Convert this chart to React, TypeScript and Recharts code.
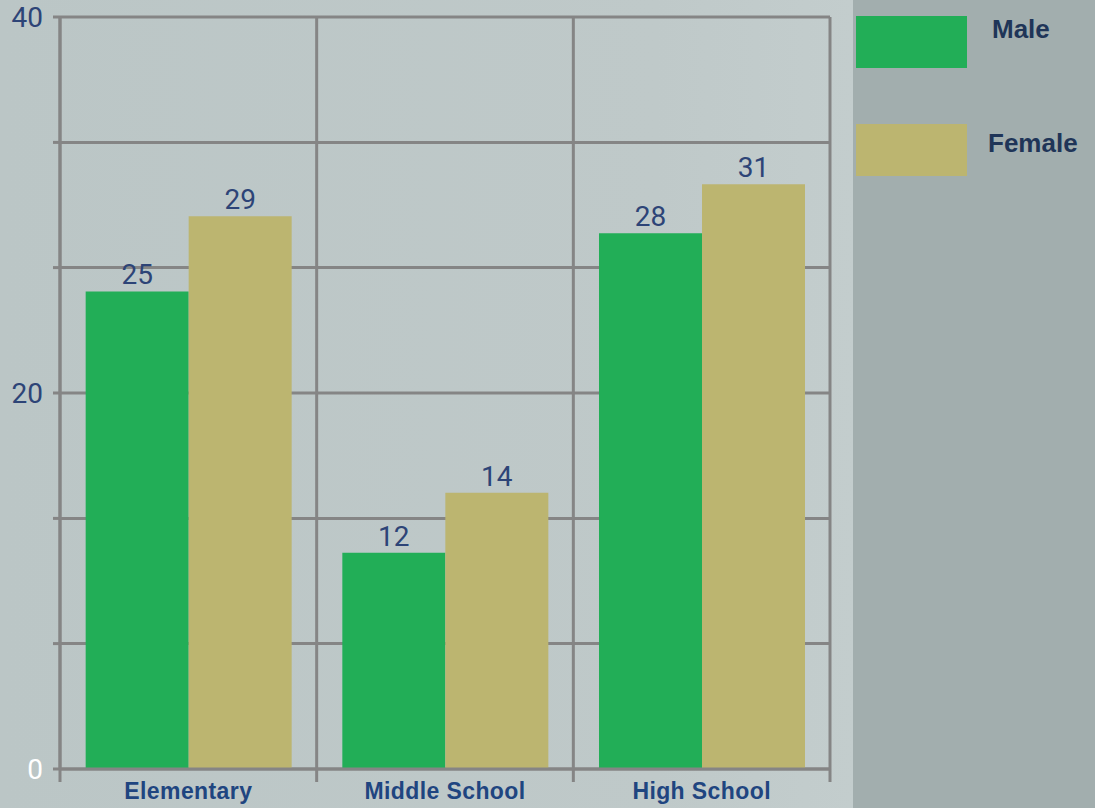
import { Bar, BarChart, CartesianGrid, LabelList, XAxis, YAxis } from 'recharts';

// Enrollment by school level, two series side by side.
const categories = ['Elementary', 'Middle School', 'High School'];
const seriesNames = ['Male', 'Female'];
const maleValues = [25.4, 11.5, 28.5];
const femaleValues = [29.4, 14.7, 31.1];
const maleLabels = ['25', '12', '28'];
const femaleLabels = ['29', '14', '31'];
const yTicks = [0, 6.67, 13.33, 20, 26.67, 33.33, 40];
const yLabelTicks = [0, 20, 40];

const MALE = '#22ae57';
const FEMALE = '#bcb570';
const SERIES_COLORS = [MALE, FEMALE];
const GRID = '#858585';
const LABEL = '#2d4477';

const CHART_W = 1095;
const CHART_H = 808;
const MARGIN = { top: 17, right: 265, left: 0, bottom: 0 };
const Y_AXIS_W = 60;
const PLOT_W = CHART_W - MARGIN.left - MARGIN.right - Y_AXIS_W;

const data = categories.map((category, i) => ({
  category,
  male: maleValues[i],
  female: femaleValues[i],
  maleLabel: maleLabels[i],
  femaleLabel: femaleLabels[i],
}));

function YTick({ x, y, payload }: any) {
  if (!yLabelTicks.includes(payload.value)) return null;
  return (
    <text
      x={x}
      y={y}
      dy="0.35em"
      textAnchor="end"
      fontFamily="Roboto"
      fontSize={28}
      fill={payload.value === 0 ? '#ffffff' : LABEL}
    >
      {payload.value}
    </text>
  );
}

function XTick({ x, y, payload, index }: any) {
  const band = PLOT_W / categories.length;
  const left = x - band / 2;
  const right = x + band / 2;
  return (
    <g>
      <line x1={left} x2={left} y1={y} y2={y + 13} stroke={GRID} strokeWidth={3} />
      {index === categories.length - 1 && (
        <line x1={right} x2={right} y1={y} y2={y + 13} stroke={GRID} strokeWidth={3} />
      )}
      <text
        x={x}
        y={y + 22}
        dy="0.35em"
        textAnchor="middle"
        fontFamily="'Liberation Sans', Arial, sans-serif"
        fontWeight="bold"
        fontSize={23}
        letterSpacing={0.4}
        fill="#1f4580"
      >
        {payload.value}
      </text>
    </g>
  );
}

export default function App() {
  return (
    <div
      style={{
        position: 'absolute',
        left: 0,
        top: 0,
        width: CHART_W,
        height: CHART_H,
        overflow: 'hidden',
        background: 'linear-gradient(90deg, #bbc6c6 0%, #bfc9c9 60%, #c3cdcd 78%)',
      }}
    >
      <div style={{ position: 'absolute', left: 853, top: 0, width: 242, height: CHART_H, background: '#a2aeae' }}>
        {seriesNames.map((name, i) => (
          <div key={name}>
            <div
              style={{ position: 'absolute', left: 3, top: 16 + i * 108, width: 111, height: 52, background: SERIES_COLORS[i] }}
            />
            <div
              style={{
                position: 'absolute',
                left: i === 0 ? 139 : 135,
                top: i === 0 ? 14 : 128,
                lineHeight: '30px',
                fontFamily: "'Liberation Sans', Arial, sans-serif",
                fontWeight: 'bold',
                fontSize: 26,
                color: '#1f3558',
                whiteSpace: 'nowrap',
              }}
            >
              {name}
            </div>
          </div>
        ))}
      </div>
      <div style={{ position: 'absolute', left: 0, top: 0 }}>
        <BarChart width={CHART_W} height={CHART_H} data={data} margin={MARGIN} barCategoryGap="10%" barGap={0}>
          <CartesianGrid
            stroke={GRID}
            strokeWidth={3}
            verticalCoordinatesGenerator={({ offset }: any) =>
              categories.map((_, i) => offset.left + (i * offset.width) / categories.length).concat(offset.left + offset.width)
            }
          />
          <XAxis
            dataKey="category"
            height={39}
            axisLine={{ stroke: GRID, strokeWidth: 3 }}
            tickLine={false}
            tickSize={0}
            tickMargin={0}
            tick={<XTick />}
            interval={0}
          />
          <YAxis
            width={Y_AXIS_W}
            domain={[0, 40]}
            ticks={yTicks}
            interval={0}
            axisLine={{ stroke: GRID, strokeWidth: 3 }}
            tickLine={{ stroke: GRID, strokeWidth: 3 }}
            tickSize={7}
            tickMargin={10}
            tick={<YTick />}
          />
          <Bar dataKey="male" name={seriesNames[0]} fill={MALE} isAnimationActive={false}>
            <LabelList dataKey="maleLabel" position="top" offset={7} fill={LABEL} fontSize={28} fontFamily="Roboto" />
          </Bar>
          <Bar dataKey="female" name={seriesNames[1]} fill={FEMALE} isAnimationActive={false}>
            <LabelList dataKey="femaleLabel" position="top" offset={7} fill={LABEL} fontSize={28} fontFamily="Roboto" />
          </Bar>
        </BarChart>
      </div>
    </div>
  );
}
